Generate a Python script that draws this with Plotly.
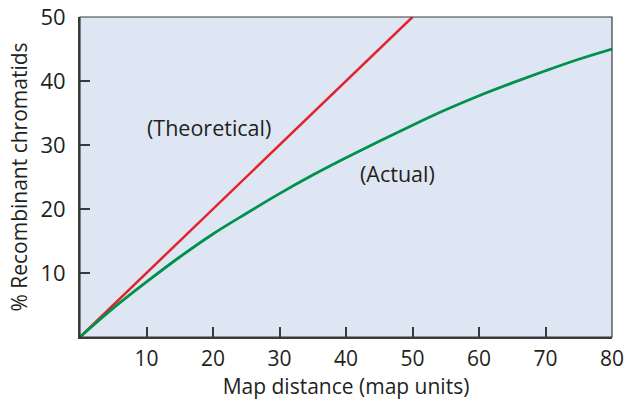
import plotly.graph_objects as go

# Data
theoretical_x = [0, 50]
theoretical_y = [0, 50]

actual_x = [0, 5, 10, 15, 20, 25, 30, 35, 40, 45, 50, 55, 60, 65, 70, 75, 80]
actual_y = [0, 4.5, 8.6, 12.5, 16.1, 19.3, 22.4, 25.3, 28.0, 30.6, 33.1, 35.5, 37.7, 39.7, 41.6, 43.4, 45.0]

x_ticks = [10, 20, 30, 40, 50, 60, 70, 80]
y_ticks = [10, 20, 30, 40, 50]

FONT = "Open Sans"
TXT = "#231f20"

fig = go.Figure()
fig.add_trace(go.Scatter(x=theoretical_x, y=theoretical_y, mode="lines",
                         line=dict(color="#e0232e", width=2.5), showlegend=False))
fig.add_trace(go.Scatter(x=actual_x, y=actual_y, mode="lines", line_shape="spline",
                         line=dict(color="#00914c", width=2.8), showlegend=False))

fig.add_annotation(x=19.4, y=32.7, text="(Theoretical)", showarrow=False,
                   font=dict(family=FONT, size=21.5, color=TXT))
fig.add_annotation(x=47.8, y=25.6, text="(Actual)", showarrow=False,
                   font=dict(family=FONT, size=21.5, color=TXT))

# thin frame on top/right
fig.add_shape(type="rect", xref="paper", yref="paper", x0=0, y0=0, x1=1, y1=1,
              line=dict(color="#3a3a3a", width=1.2), layer="above")

fig.update_layout(
    width=627, height=403,
    margin=dict(l=80, r=15, t=17, b=66),
    plot_bgcolor="#dfe6f3", paper_bgcolor="white",
    font=dict(family=FONT, size=18, color=TXT),
    xaxis=dict(range=[0, 80], tickvals=x_ticks, ticks="inside", ticklen=10,
               tickwidth=1.5, tickcolor="#3a3a3a", showgrid=False, zeroline=False,
               showline=True, linewidth=2, linecolor="#3a3a3a", automargin=False,
               title=dict(text="Map distance (map units)", standoff=6,
                          font=dict(size=21)),
               tickfont=dict(size=21), ticklabelstandoff=2,
               ticklabeloverflow="allow"),
    yaxis=dict(range=[0, 50], tickvals=y_ticks, ticks="inside", ticklen=10,
               tickwidth=1.5, tickcolor="#3a3a3a", showgrid=False, zeroline=False,
               showline=True, linewidth=2, linecolor="#3a3a3a", automargin=False,
               title=dict(text="% Recombinant chromatids", standoff=7,
                          font=dict(size=21)),
               tickfont=dict(size=22), ticklabelstandoff=8,
               ticklabeloverflow="allow"),
)

fig.write_html("out.html",
               config={"displayModeBar": False},
               post_script="document.body.style.margin='0';document.body.style.overflow='hidden';")
